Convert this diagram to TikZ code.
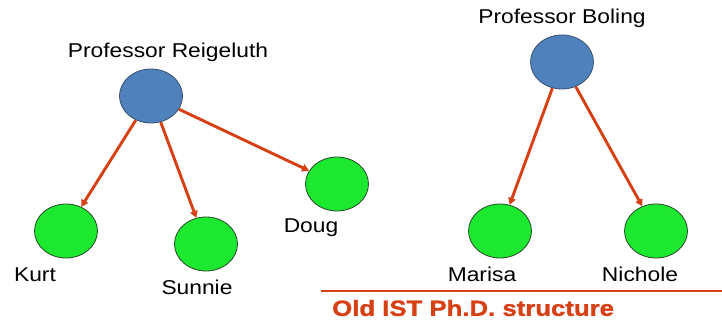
\documentclass[tikz,border=0pt]{standalone}
\usepackage{fontspec}
\setmainfont{Liberation Sans}
\newfontfamily\headfont{Liberation Sans}[UprightFont=*-Bold, FakeBold=1.2]
\usetikzlibrary{positioning}
\usetikzlibrary{shapes.geometric,arrows.meta}
\definecolor{profblue}{RGB}{79,129,189}
\definecolor{profedge}{RGB}{56,80,110}
\definecolor{studgreen}{RGB}{28,232,48}
\definecolor{studedge}{RGB}{40,70,40}
\definecolor{linkred}{RGB}{214,64,20}
\tikzset{
    >={Triangle[length=7pt,width=7.5pt]},
    prof/.style={ellipse, draw=profedge, fill=profblue, thick, minimum width=63pt, minimum height=54pt, inner sep=0pt},
    student/.style={ellipse, draw=studedge, fill=studgreen, thick, minimum width=63pt, minimum height=54pt, inner sep=0pt},
    tag/.style={inner sep=0pt, xscale=1.14, font=\fontsize{20}{24}\selectfont},
    link/.style={->, draw=linkred, line width=2.9pt},
}

\begin{document}
\begin{tikzpicture}[x=1pt, y=-1pt]
            \useasboundingbox (0,0) rectangle (722,326);

            % left tree
            \node[prof] (reig) at (151,96) {};
            \node[tag] (reiglab) at (168,52) {Professor Reigeluth};
            \node[student] (kurt) at (66,231) {};
            \node[tag] (kurtlab) at (35,275) {Kurt};
            \node[student] (sunnie) at (206,244) {};
            \node[tag] (sunnielab) at (197,287) {Sunnie};
            \node[student] (doug) at (337,184) {};
            \node[tag] (douglab) at (311,228) {Doug};

            % right tree
            \node[prof] (boling) at (562,62) {};
            \node[tag] (bolinglab) at (562,18) {Professor Boling};
            \node[student] (marisa) at (500,231) {};
            \node[tag] (marisalab) at (482,274) {Marisa};
            \node[student] (nichole) at (656,231) {};
            \node[tag] (nicholelab) at (640,274) {Nichole};

            % caption
            \coordinate (rulel) at (321,291);
            \coordinate (ruler) at (722,291);
            \draw[linkred, line width=1.6pt] (rulel) -- (ruler);
            \node[inner sep=0pt, anchor=west, xscale=1.17, text=linkred, font=\fontsize{22}{26}\headfont] (caption) at (332,308) {Old IST Ph.D. structure};

            \draw[link] (reig) -- (kurt);
            \draw[link] (reig) -- (sunnie);
            \draw[link] (reig) -- (doug);
            \draw[link] (boling) -- (marisa);
            \draw[link] (boling) -- (nichole);
        \end{tikzpicture}
\end{document}
